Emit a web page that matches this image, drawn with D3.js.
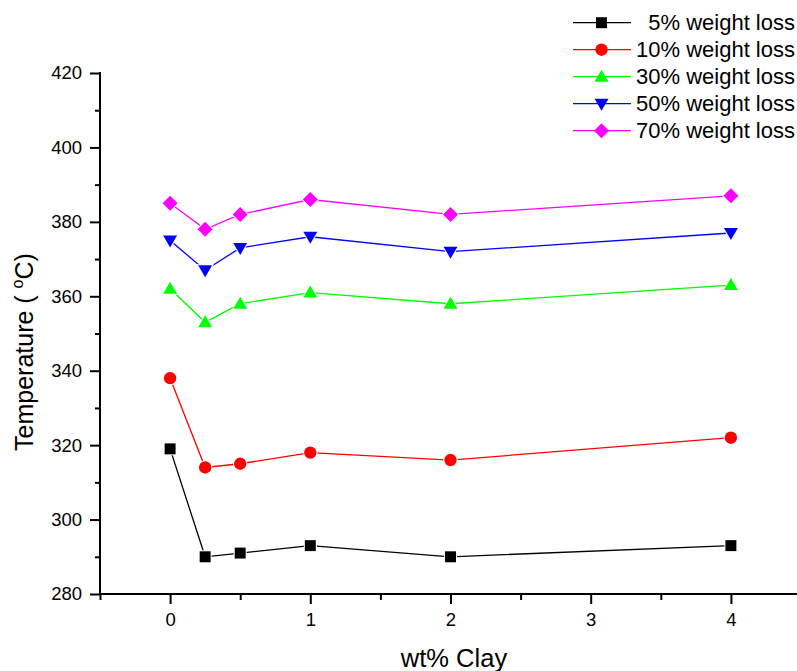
<!DOCTYPE html>
<html><head><meta charset="utf-8">
<script src="https://cdn.jsdelivr.net/npm/d3@7"></script>
<style>body{margin:0;background:#fff}svg{display:block;font-family:"Liberation Sans",Arial,sans-serif}</style>
</head><body><svg id="c" width="797" height="671"></svg>
<script>
const clay = [0, 0.25, 0.5, 1, 2, 4];
const loss5 = [319, 290, 291, 293, 290, 293];
const loss10 = [338, 314, 315, 318, 316, 322];
const loss30 = [362, 353, 358, 361, 358, 363];
const loss50 = [375, 367, 373, 376, 372, 377];
const loss70 = [385, 378, 382, 386, 382, 387];
const seriesNames = ["5% weight loss","10% weight loss","30% weight loss","50% weight loss","70% weight loss"];
const seriesColors = ["#000000","#ff0000","#00ff00","#0000ff","#ff00ff"];
const seriesSymbols = ["square","circle","triangle","tridown","diamond"];
const xTicks = [0,1,2,3,4];
const yTicks = [280,300,320,340,360,380,400,420];

const series = [loss5,loss10,loss30,loss50,loss70].map((v,i)=>({name:seriesNames[i],color:seriesColors[i],sym:seriesSymbols[i],values:v}));
const svg = d3.select("#c");
const x = d3.scaleLinear().domain([-0.5,4.5]).range([100,801]);
const y = d3.scaleLinear().domain([280,420]).range([594,73]);

function symPath(s){
  if(s==="square") return d3.symbol(d3.symbolSquare,120)();
  if(s==="circle") return d3.symbol(d3.symbolCircle,120)();
  if(s==="diamond") return "M0,-7.5L7.5,0L0,7.5L-7.5,0Z";
  if(s==="triangle") return "M0,-7L7,5L-7,5Z";
  if(s==="tridown") return "M0,7L7,-5L-7,-5Z";
}

// axes
const xMinor = d3.range(-0.5,4.51,0.5).filter(v=>Math.abs(v-Math.round(v))>0.01);
const yMinor = d3.range(290,420,20);
const ax = svg.append("g");
ax.append("line").attr("x1",100).attr("x2",801).attr("y1",594).attr("y2",594).attr("stroke","#000").attr("stroke-width",2);
ax.append("line").attr("x1",100).attr("x2",100).attr("y1",72).attr("y2",594).attr("stroke","#000").attr("stroke-width",2);
const xa = svg.append("g").attr("transform","translate(0,594)")
  .call(d3.axisBottom(x).tickValues(xTicks).tickFormat(d3.format("d")).tickSize(10).tickPadding(9).tickSizeOuter(0));
xa.select(".domain").remove();
xa.selectAll("line").attr("stroke-width",2);
xa.selectAll("text").attr("font-size",18.5).attr("font-family","Liberation Sans, Arial, sans-serif");
const xm = svg.append("g").attr("transform","translate(0,594)")
  .call(d3.axisBottom(x).tickValues(xMinor).tickFormat("").tickSize(6).tickSizeOuter(0));
xm.select(".domain").remove(); xm.selectAll("line").attr("stroke-width",2);
const ya = svg.append("g").attr("transform","translate(100,0)")
  .call(d3.axisLeft(y).tickValues(yTicks).tickFormat(d3.format("d")).tickSize(10).tickPadding(8).tickSizeOuter(0));
ya.select(".domain").remove();
ya.selectAll("line").attr("stroke-width",2);
ya.selectAll("text").attr("font-size",18.5).attr("font-family","Liberation Sans, Arial, sans-serif");
const ym = svg.append("g").attr("transform","translate(100,0)")
  .call(d3.axisLeft(y).tickValues(yMinor).tickFormat("").tickSize(5).tickSizeOuter(0));
ym.select(".domain").remove(); ym.selectAll("line").attr("stroke-width",2);

// series
const line = d3.line().x((d,i)=>x(clay[i])).y(d=>y(d));
series.forEach(s=>{
  const g = svg.append("g");
  g.append("path").attr("d",line(s.values)).attr("fill","none").attr("stroke",s.color).attr("stroke-width",1.3);
  g.selectAll("path.m").data(s.values).join("path").attr("class","m")
    .attr("transform",(d,i)=>`translate(${x(clay[i])},${y(d)})`)
    .attr("d",symPath(s.sym)).attr("fill",s.color).attr("stroke","#fff").attr("stroke-width",2).attr("paint-order","stroke");
});

// legend
const lg = svg.append("g");
series.forEach((s,i)=>{
  const yy = 22.7 + i*27;
  lg.append("line").attr("x1",573).attr("x2",631).attr("y1",yy).attr("y2",yy).attr("stroke",s.color).attr("stroke-width",1.3);
  lg.append("path").attr("transform",`translate(601.5,${yy})`).attr("d",symPath(s.sym)).attr("fill",s.color);
  lg.append("text").attr("x",795).attr("y",yy+7.5).attr("text-anchor","end").attr("font-size",22).text(s.name);
});

// titles
svg.append("text").attr("x",454).attr("y",667).attr("text-anchor","middle").attr("font-size",25.5).text("wt% Clay");
const yt = svg.append("text").attr("transform","translate(33,352) rotate(-90)").attr("text-anchor","middle").attr("font-size",25);
yt.append("tspan").text("Temperature ( ");
yt.append("tspan").attr("font-size",16).attr("dy",-10).text("o");
yt.append("tspan").attr("dy",10).text("C)");
</script></body></html>
